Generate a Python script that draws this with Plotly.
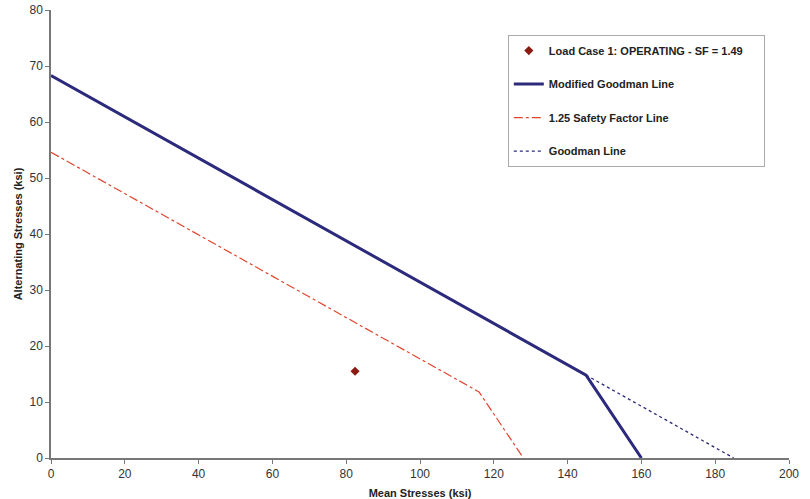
import plotly.graph_objects as go

# Data
mod_goodman_x = [0, 145, 160]
mod_goodman_y = [68.3, 14.8, 0]
safety_x = [0, 116, 128]
safety_y = [54.6, 11.8, 0]
goodman_x = [145, 185]
goodman_y = [14.8, 0]
load_x = [82.4]
load_y = [15.5]

navy = "#2b2a7c"
red = "#e0452c"
narrow = "Liberation Sans Narrow, Arial Narrow, Liberation Sans, Arial"
sans = "Liberation Sans, Arial, Helvetica"

fig = go.Figure()
fig.add_trace(go.Scatter(x=load_x, y=load_y, mode="markers", name="<b>Load Case 1: OPERATING - SF = 1.49</b>&nbsp;&nbsp;&nbsp;&nbsp;&nbsp;",
                         marker=dict(symbol="diamond", size=7, color="#8b1a12"), legendgroup="a"))
fig.add_trace(go.Scatter(x=mod_goodman_x, y=mod_goodman_y, mode="lines", name="<b>Modified Goodman Line</b>",
                         line=dict(color=navy, width=3), legendgroup="b"))
fig.add_trace(go.Scatter(x=safety_x, y=safety_y, mode="lines", name="<b>1.25 Safety Factor Line</b>",
                         line=dict(color=red, width=1.2, dash="dashdot"), legendgroup="c"))
fig.add_trace(go.Scatter(x=goodman_x, y=goodman_y, mode="lines", name="<b>Goodman Line</b>",
                         line=dict(color=navy, width=1.3, dash="dot"), legendgroup="d"))

axis_common = dict(showgrid=False, zeroline=False, showline=True, linecolor="#777777", linewidth=1.5,
                   ticks="outside", ticklen=4, tickcolor="#777777",
                   tickfont=dict(family=narrow, size=12, color="#333333"))

fig.update_layout(
    width=810, height=499,
    margin=dict(l=51, r=21, t=10, b=41),
    paper_bgcolor="white", plot_bgcolor="white",
    font=dict(family=sans, size=11, color="#222222"),
    xaxis=dict(range=[0, 200], dtick=20, automargin=False,
               title=dict(text="<b>Mean Stresses (ksi)</b>", font=dict(family=sans, size=11)),
               **axis_common),
    yaxis=dict(range=[0, 80], dtick=10, automargin="left",
               title=dict(text="<b>Alternating Stresses (ksi)</b>", font=dict(family=sans, size=11), standoff=5),
               **axis_common),
    legend=dict(x=0.619, y=0.944, xanchor="left", yanchor="top",
                bordercolor="#aaaaaa", borderwidth=1, bgcolor="white",
                font=dict(family=sans, size=11, color="#222222"),
                tracegroupgap=14.5, itemwidth=30),
    showlegend=True,
)

fig.write_html("out.html")
